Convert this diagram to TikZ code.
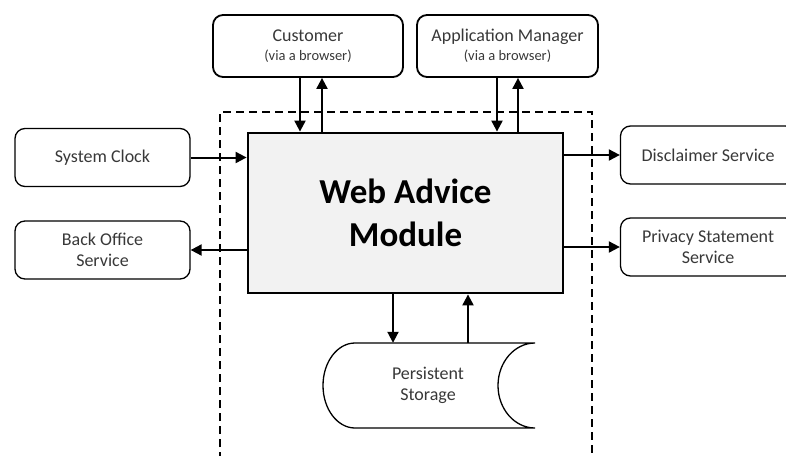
\documentclass[tikz,border=0pt]{standalone}
\usepackage{fontspec}
\setmainfont{Carlito}
\usetikzlibrary{positioning,arrows.meta}

\begin{document}
\begin{tikzpicture}[x=1pt, y=-1pt,
    every node/.style={font=\fontsize{18}{20.5}\selectfont, align=center, text=black!78},
    actor/.style={draw, line width=1.8pt, rounded corners=10pt, minimum height=62pt},
    service/.style={draw, line width=1.3pt, rounded corners=10pt, minimum width=175pt, minimum height=58pt},
    flow/.style={line width=2pt, -{Triangle[length=11pt, width=11pt]}}]
    \useasboundingbox (0,0) rectangle (786,455);
    % module boundary
    \draw[line width=1.8pt, dash pattern=on 8pt off 5pt] (220,460) |- (592,112) -- (592,460);
    \node[draw, line width=2.8pt, fill=black!5, text=black, minimum width=315pt, minimum height=160pt,
      font=\fontsize{35}{43}\selectfont\bfseries] (main) at (405.5,213) {Web Advice\\Module};
    \node[actor, minimum width=190pt] (cust) at (308,46) {Customer\\[-2pt]{\fontsize{14.5}{18}\selectfont (via a browser)}};
    \node[actor, minimum width=181pt] (appm) at (507.5,46) {Application Manager\\[-2pt]{\fontsize{14.5}{18}\selectfont (via a browser)}};
    \node[service] (clock) at (102.5,157.5) {System Clock};
    \node[service] (back) at (102.5,250) {Back Office\\Service};
    \node[service] (discl) at (708,155) {Disclaimer Service};
    \node[service] (priv) at (708,247) {Privacy Statement\\Service};
    \node[minimum height=85pt] (stor) at (428,385.5) {Persistent\\Storage};
    \draw[line width=1.3pt] (535,343) -- (355,343)
      arc[start angle=270, end angle=90, x radius=32, y radius=42.5] -- (535,428)
      arc[start angle=90, end angle=270, x radius=37, y radius=42.5];
    % connectors
    \foreach \dn/\up/\src in {300/322/cust, 497/518/appm} {
      \draw[flow] (\src.south -| \dn,0) -- (main.north -| \dn,0);
      \draw[flow] (main.north -| \up,0) -- (\src.south -| \up,0);
    }
    \draw[flow] (clock.east) -- (main.west |- clock.east);
    \draw[flow] (main.west |- back.east) -- (back.east);
    \draw[flow] (main.east |- discl.west) -- (discl.west);
    \draw[flow] (main.east |- priv.west) -- (priv.west);
    \draw[flow] (main.south -| 393,0) -- (stor.north -| 393,0);
    \draw[flow] (stor.north -| 468,0) -- (main.south -| 468,0);
  \end{tikzpicture}
\end{document}
